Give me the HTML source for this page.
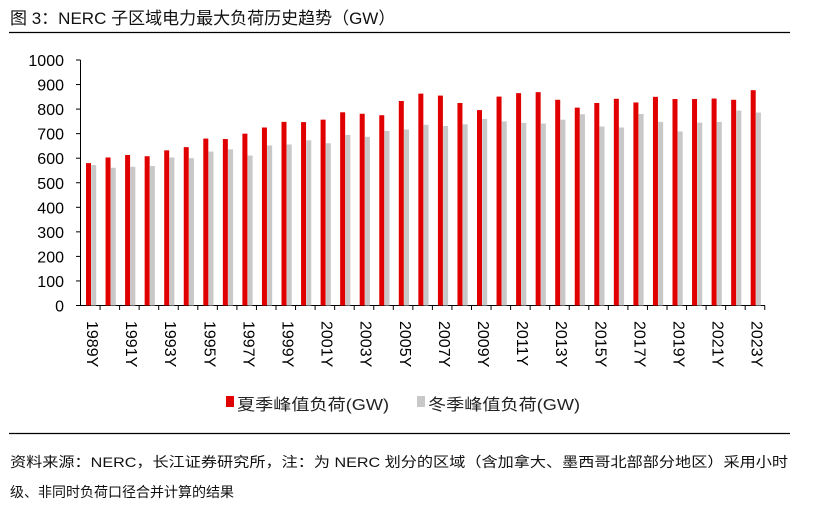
<!DOCTYPE html>
<html><head><meta charset="utf-8"><style>
body{margin:0;background:#fff;}
svg{display:block;font-family:"Liberation Sans","Noto Sans CJK SC",sans-serif;}
</style></head><body>
<svg id="s" width="832" height="518" xmlns="http://www.w3.org/2000/svg">
<text x="10" y="24" font-size="17" fill="#111">图 3：NERC 子区域电力最大负荷历史趋势（GW）</text>
<line x1="9" y1="32.5" x2="790" y2="32.5" stroke="#000" stroke-width="1.2"/>
<g id="ylab" font-size="16" fill="#000" text-anchor="end"></g>
<line x1="80.5" y1="60" x2="80.5" y2="306" stroke="#000"/>
<line x1="80" y1="305.5" x2="765" y2="305.5" stroke="#000"/>
<g id="bars"></g>
<g id="xlab" font-size="16" fill="#000"></g>
<rect x="226" y="396" width="8" height="11" fill="#e00000"/>
<text x="237" y="410" font-size="16" textLength="152" lengthAdjust="spacingAndGlyphs" fill="#222">夏季峰值负荷(GW)</text>
<rect x="417" y="396" width="8" height="11" fill="#c8c8c8"/>
<text x="428" y="410" font-size="16" textLength="152" lengthAdjust="spacingAndGlyphs" fill="#222">冬季峰值负荷(GW)</text>
<line x1="9" y1="433.5" x2="790" y2="433.5" stroke="#000" stroke-width="1.2"/>
<text x="10" y="467" font-size="14" fill="#111" textLength="778" lengthAdjust="spacingAndGlyphs">资料来源：NERC，长江证券研究所，注：为 NERC 划分的区域（含加拿大、墨西哥北部部分地区）采用小时</text>
<text x="10" y="497" font-size="14" fill="#111">级、非同时负荷口径合并计算的结果</text>
</svg>
<script>
var S=[580,603,613,608,632,645,680,678,700,725,748,747,757,787,781,775,833,863,855,825,796,851,865,869,838,806,825,842,827,850,841,841,843,838,877];
var W=[572,561,565,568,603,600,627,636,611,652,656,673,661,695,687,711,717,736,731,738,760,750,744,741,757,779,729,725,780,748,709,745,748,794,786];
var ns="http://www.w3.org/2000/svg";
function el(t,a,p,txt){var e=document.createElementNS(ns,t);for(var k in a)e.setAttribute(k,a[k]);if(txt!==undefined)e.textContent=String(txt);document.getElementById(p).appendChild(e);}
var y0=305.5,k=0.2455;
for(var v=0;v<=1000;v+=100){var y=y0-v*k;el('text',{x:64,y:y+6},'ylab',v);el('line',{x1:76,y1:y,x2:80.5,y2:y,stroke:'#000'},'ylab');}
var p=19.55,x0=80.5;
for(var i=0;i<35;i++){var cx=x0+i*p;
el('rect',{x:cx+5.5,y:y0-S[i]*k,width:5,height:S[i]*k,fill:'#e00000'},'bars');
el('rect',{x:cx+10.7,y:y0-W[i]*k,width:5,height:W[i]*k,fill:'#c8c8c8'},'bars');
el('line',{x1:cx+p,y1:305.5,x2:cx+p,y2:310,stroke:'#000'},'bars');
if(i%2==0){var lx=cx+10.5-4;el('text',{x:0,y:0,transform:'translate('+lx+',321) rotate(90)'},'xlab',(1989+i)+'Y');}
}
</script>
</body></html>
